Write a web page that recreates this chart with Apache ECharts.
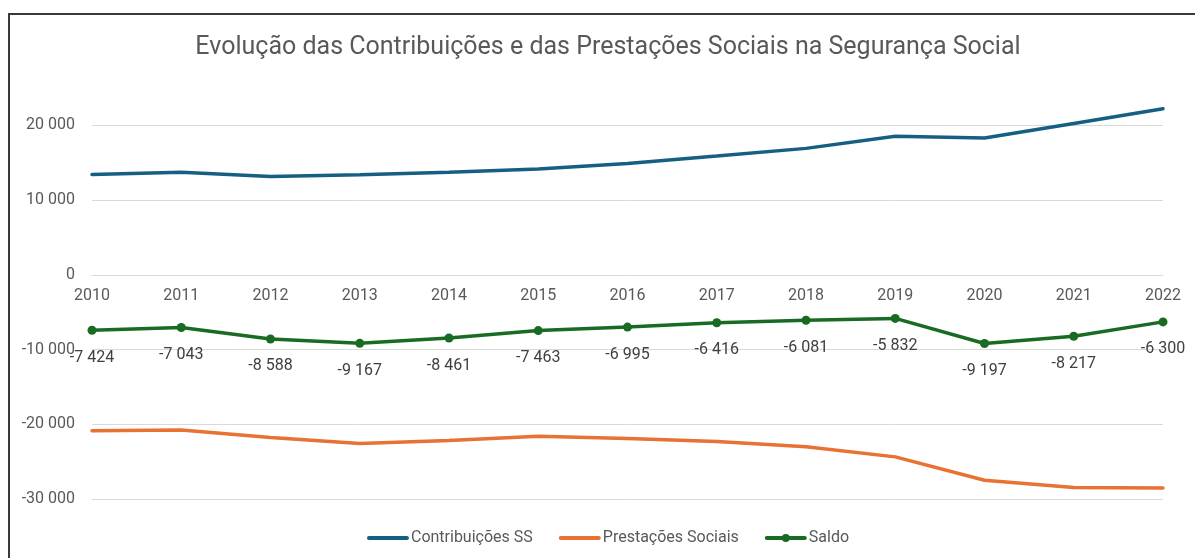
<!DOCTYPE html>
<html>
<head>
    <meta charset="utf-8">
    <title>Segurança Social</title>
    <script src="https://cdn.jsdelivr.net/npm/echarts@6/dist/echarts.min.js"></script>
    <style>
        body { margin: 0; overflow: hidden; background: #fff; }
        #frame { position: absolute; left: 8px; top: 13px; width: 1300px; height: 700px; border: 2px solid #3a3a3a; pointer-events: none; }
    </style>
</head>
<body>
    <div id="main" style="position:absolute;left:0;top:0;width:1216px;height:558px;"></div>
    <div id="frame"></div>

    <script type="text/javascript">
        var anos = ['2010', '2011', '2012', '2013', '2014', '2015', '2016', '2017', '2018', '2019', '2020', '2021', '2022'];
        var contribuicoes = [13440, 13710, 13170, 13390, 13710, 14150, 14910, 15890, 16920, 18530, 18300, 20250, 22220];
        var prestacoes = [-20864, -20753, -21758, -22557, -22171, -21613, -21905, -22306, -23001, -24362, -27497, -28467, -28520];
        var saldo = [-7424, -7043, -8588, -9167, -8461, -7463, -6995, -6416, -6081, -5832, -9197, -8217, -6300];
        var yTicks = [-30000, -20000, -10000, 0, 10000, 20000];

        var cinza = '#595959';
        var fonte = 'Roboto, "Liberation Sans", sans-serif';
        // icones da legenda: linha grossa, e linha com bola para o saldo
        var iconeLinha = 'path://M2,0 h38 a2,2 0 0 1 0,4 h-38 a2,2 0 0 1 0,-4 z';
        var iconeSaldo = 'path://M2,3 h38 a2,2 0 0 1 0,4 h-38 a2,2 0 0 1 0,-4 z M17,5 a4,4 0 1 1 8,0 a4,4 0 1 1 -8,0 z';

        // 12 345 -> "12 345"
        var fmt = function(v) {
            var s = Math.abs(Math.round(v)).toString();
            s = s.replace(/\B(?=(\d{3})+(?!\d))/g, ' ');
            return (v < 0 ? '-' : '') + s;
        };

        var myChart = echarts.init(document.getElementById('main'));

        var option = {
            animation: false,
            textStyle: { fontFamily: fonte },
            title: {
                text: 'Evolução das Contribuições e das Prestações Sociais na Segurança Social',
                left: 'center',
                top: 30,
                textStyle: { fontSize: 25, fontWeight: 'normal', color: cinza, fontFamily: fonte }
            },
            legend: {
                bottom: 7,
                left: 'center',
                itemWidth: 42,
                itemHeight: 10,
                itemGap: 26,
                textStyle: { fontSize: 16, color: cinza, padding: [0, 0, 0, -3] },
                data: [
                    { name: 'Contribuições SS', icon: iconeLinha },
                    { name: 'Prestações Sociais', icon: iconeLinha },
                    { name: 'Saldo', icon: iconeSaldo }
                ]
            },
            grid: {
                left: 92,
                right: 53,
                top: 88,
                bottom: 59,
                containLabel: false
            },
            xAxis: {
                type: 'category',
                data: anos,
                boundaryGap: false,
                offset: -224,
                axisLine: { onZero: false, lineStyle: { color: '#d9d9d9', width: 1 } },
                axisTick: { show: false },
                axisLabel: { fontSize: 16, color: cinza, margin: 13 }
            },
            yAxis: {
                type: 'value',
                min: yTicks[0],
                max: 25000,
                interval: 10000,
                axisLine: { show: false },
                axisTick: { show: false },
                axisLabel: {
                    fontSize: 16,
                    color: cinza,
                    margin: 17,
                    showMaxLabel: false,
                    formatter: function(v) { return yTicks.indexOf(v) >= 0 ? fmt(v) : ''; }
                },
                splitLine: { showMaxLine: false, lineStyle: { color: '#d9d9d9', width: 1 } }
            },
            series: [
                {
                    name: 'Contribuições SS',
                    type: 'line',
                    data: contribuicoes,
                    symbol: 'none',
                    lineStyle: { width: 3.5, color: '#156082', cap: 'round' },
                    itemStyle: { color: '#156082' }
                },
                {
                    name: 'Prestações Sociais',
                    type: 'line',
                    data: prestacoes,
                    symbol: 'none',
                    lineStyle: { width: 3.5, color: '#E97132', cap: 'round' },
                    itemStyle: { color: '#E97132' }
                },
                {
                    name: 'Saldo',
                    type: 'line',
                    data: saldo,
                    symbol: 'circle',
                    symbolSize: 9,
                    lineStyle: { width: 3.5, color: '#196B24' },
                    itemStyle: { color: '#196B24' },
                    label: {
                        show: true,
                        position: 'bottom',
                        distance: 15,
                        fontSize: 16,
                        color: '#404040',
                        formatter: function(p) { return fmt(p.value); }
                    }
                }
            ]
        };

        myChart.setOption(option);
    </script>
</body>
</html>
